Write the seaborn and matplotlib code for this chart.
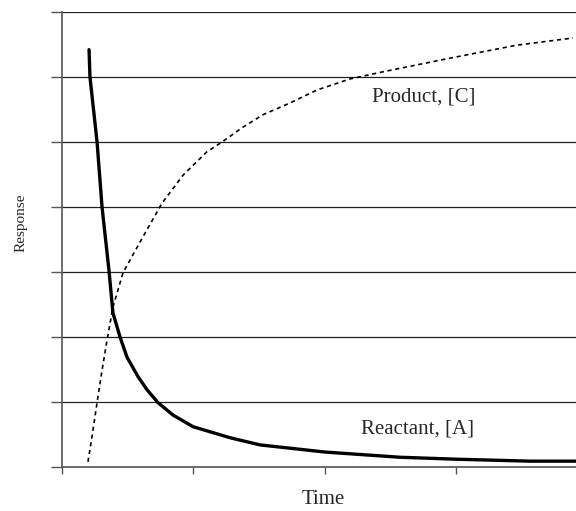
import matplotlib
matplotlib.use("Agg")
import matplotlib.pyplot as plt
import pandas as pd
import seaborn as sns

# Dados (tempo em unidades de marcação, resposta em unidades de grade)
tempo_a = [0.206, 0.213, 0.267, 0.305, 0.358, 0.388, 0.442, 0.495, 0.579, 0.647, 0.731,
           0.845, 0.998, 1.280, 1.508, 2.003, 2.574, 3.001, 3.564, 3.915]
reagente_a = [6.42, 6.00, 5.00, 4.00, 3.02, 2.37, 2.00, 1.69, 1.39, 1.19, 0.99,
              0.80, 0.62, 0.45, 0.34, 0.23, 0.15, 0.12, 0.09, 0.09]

tempo_c = [0.198, 0.228, 0.267, 0.305, 0.343, 0.388, 0.465, 0.594, 0.762, 0.922, 1.104,
           1.219, 1.379, 1.531, 1.736, 1.942, 2.193, 2.445, 2.955, 3.465, 3.892]
produto_c = [0.08, 0.46, 0.99, 1.49, 1.95, 2.46, 2.99, 3.46, 4.06, 4.49, 4.85,
             5.00, 5.23, 5.42, 5.60, 5.80, 5.97, 6.08, 6.29, 6.49, 6.60]

df_a = pd.DataFrame({"Time": tempo_a, "Response": reagente_a})
df_c = pd.DataFrame({"Time": tempo_c, "Response": produto_c})

sns.set_style("white")
plt.rcParams["font.family"] = ["Liberation Serif", "DejaVu Serif"]

fig = plt.figure(figsize=(5.76, 5.11), dpi=100)
ax = fig.add_axes([62 / 576, 44 / 511, 1 - 62 / 576, 455 / 511])

# curva do produto (pontilhada) e do reagente (grossa)
sns.lineplot(data=df_c, x="Time", y="Response", ax=ax, color="black",
             linewidth=1.2, linestyle=(0, (2.5, 2.2)), sort=False)
sns.lineplot(data=df_a, x="Time", y="Response", ax=ax, color="black",
             linewidth=2.4, sort=False)

ax.set_xlim(0, 514 / 131.3)
ax.set_ylim(0, 7)
ax.set_xticks([0, 1, 2, 3])
ax.set_yticks(range(8))
ax.set_xticklabels([])
ax.set_yticklabels([])
ax.set_xlabel("")
ax.set_ylabel("")
ax.grid(axis="y", color="#222222", linewidth=0.9)
ax.tick_params(axis="y", direction="out", length=8, width=1, color="#555555", left=True)
ax.tick_params(axis="x", direction="out", length=5, width=1, color="#555555", bottom=True)

for lado in ["top", "right"]:
    ax.spines[lado].set_visible(False)
for lado in ["left", "bottom"]:
    ax.spines[lado].set_color("#555555")
    ax.spines[lado].set_linewidth(1.2)

# rótulos dos eixos
fig.text(323 / 576, 1 - 500 / 511, "Time", fontsize=15, ha="center", va="center")
fig.text(21 / 576, 1 - 223 / 511, "Response", fontsize=11, ha="center", va="center",
         rotation=90)

ax.text(2.757, 5.69, "Product, [C]", fontsize=15, ha="center", va="center")
ax.text(2.704, 0.585, "Reactant, [A]", fontsize=15, ha="center", va="center")

fig.savefig("out.png", dpi=100)
